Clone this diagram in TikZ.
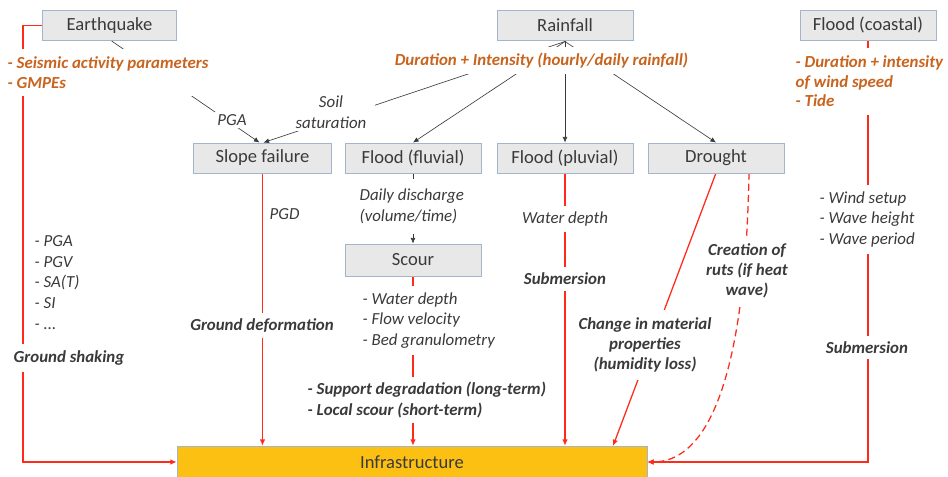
\documentclass[tikz,border=0pt]{standalone}
\usepackage{fontspec}
\setmainfont{Carlito}
\usepackage{tikz}
\usetikzlibrary{arrows.meta, positioning, backgrounds, calc}
\definecolor{box_fill}{HTML}{E8E8E8}
\definecolor{box_line}{HTML}{A3B5CC}
\definecolor{infra_fill}{HTML}{FCC013}
\definecolor{haz_orange}{HTML}{C8641E}
\definecolor{lbl_gray}{HTML}{3A3A3A}
\definecolor{imp_red}{HTML}{FF2A1A}
\tikzset{
    hazard/.style={rectangle, draw=box_line, fill=box_fill, line width=0.6pt, minimum height=0.75cm, font=\fontsize{13.2}{15}\selectfont, text=lbl_gray},
    infra/.style={rectangle, draw=box_line, fill=infra_fill, line width=0.4pt, font=\fontsize{13.2}{15}\selectfont, text=lbl_gray},
    lbl/.style={fill=white, inner sep=1pt, align=left, font=\fontsize{12}{14.6}\selectfont\itshape, text=lbl_gray},
    impact/.style={lbl, font=\fontsize{12}{14.4}\selectfont\bfseries\itshape, align=center},
    param/.style={lbl, font=\fontsize{12}{14.4}\selectfont\bfseries\itshape, text=haz_orange},
    arrow/.style={->, >={Latex[length=4pt, width=3.5pt]}, line width=0.45pt, lbl_gray},
    redarrow/.style={->, >={Latex[length=4.5pt, width=4pt]}, line width=0.9pt, imp_red}
}

\begin{document}
\begin{tikzpicture}[x=0.025cm, y=-0.025cm]
    \useasboundingbox (0,0) rectangle (948,477);

    % hazards
    \node (Earthquake) [hazard, minimum width=3.37cm] at (109.5,25.5) {Earthquake};
    \node (Rainfall) [hazard, minimum width=3.4cm] at (565,25.5) {Rainfall};
    \node (Coastal) [hazard, minimum width=3.4cm] at (868,25.5) {Flood (coastal)};

    \node (Slope) [hazard, minimum width=3.47cm] at (262.5,158) {Slope failure};
    \node (Fluvial) [hazard, minimum width=3.4cm] at (413,158) {Flood (fluvial)};
    \node (Pluvial) [hazard, minimum width=3.4cm] at (565,158) {Flood (pluvial)};
    \node (Drought) [hazard, minimum width=3.4cm] at (716,158) {Drought};
    \node (Scour) [hazard, minimum width=3.4cm, minimum height=0.8cm] at (413,260) {Scour};

    \node (Infra) [infra, minimum width=11.75cm, minimum height=0.8cm] at (412,462) {Infrastructure};

    % intensity parameters
    \node (Seismic_par) [param, anchor=west, inner ysep=5pt] at (6,72.5) {- Seismic activity parameters\\- GMPEs};
    \node (Rain_par) [param, inner ysep=4.5pt] at (541.5,60.5) {Duration + Intensity (hourly/daily rainfall)};
    \node (Coastal_par) [param, anchor=west, inner ysep=5.5pt, font=\fontsize{12}{13.9}\selectfont\bfseries\itshape] at (794,81.5) {- Duration + intensity\\of wind speed\\- Tide};

    \node (PGA_lbl) [lbl, inner sep=2pt] at (232,120) {PGA};
    \node (Soil_lbl) [lbl, align=center, inner xsep=6pt, inner ysep=2pt] at (331,112) {Soil\\saturation};
    \node (Shaking_par) [lbl, anchor=west, fill=none, font=\fontsize{12}{14.8}\selectfont\itshape] at (33,282.5) {- PGA\\- PGV\\- SA(T)\\- SI\\- ...};
    \node (PGD_lbl) [lbl, anchor=west] at (268,214) {PGD};
    \node (Discharge_lbl) [lbl, anchor=west, inner ysep=7pt] at (358,206.5) {Daily discharge\\(volume/time)};
    \node (Scour_par) [lbl, anchor=west, inner ysep=5pt] at (361,320.5) {- Water depth\\- Flow velocity\\- Bed granulometry};
    \node (Depth_lbl) [lbl, inner ysep=4pt] at (565,219) {Water depth};
    \node (Wave_par) [lbl, anchor=west, inner ysep=5pt] at (818,219.5) {- Wind setup\\- Wave height\\- Wave period};

    % impacts
    \node (Shaking_imp) [impact, inner ysep=4.5pt] at (69,358) {Ground shaking};
    \node (Deform_imp) [impact, inner ysep=4pt] at (262,325.5) {Ground deformation};
    \node (Support_imp) [impact, anchor=west, align=left, inner ysep=3.5pt] at (306,400) {- Support degradation (long-term)\\- Local scour (short-term)};
    \node (Subm_imp) [impact, inner ysep=4pt] at (565,279) {Submersion};
    \node (Material_imp) [impact, inner ysep=5pt, inner xsep=2pt] at (645,345) {Change in material\\properties\\(humidity loss)};
    \node (Ruts_imp) [impact, inner ysep=5.5pt] at (747,271) {Creation of\\ruts (if heat\\wave)};
    \node (Coastal_imp) [impact, inner ysep=4pt] at (867,347.5) {Submersion};

    \coordinate (Eq_corner) at (23,25.5);
    \coordinate (Rain_out) at (565,41.5);
    \coordinate (Dr_solid_end) at (613,446);
    \coordinate (Dr_dash_start) at (749,172.5);

    \begin{scope}[on background layer]
        % triggering
        \draw[arrow] ($(Earthquake.south)+(2,0)$) -- ($(Slope.north)+(-3,0)$);
        \draw[arrow] (Rain_out) -- ($(Slope.north)+(1,0)$);
        \draw[arrow] (Rain_out) -- (Fluvial.north);
        \draw[arrow] (Rain_out) -- (Pluvial.north);
        \draw[arrow] (Rain_out) -- (Drought.north);
        \draw[arrow] (Fluvial.south) -- (Scour.north);

        % impacts on the infrastructure
        \draw[redarrow] (Earthquake.west) -- (Eq_corner) |- (Infra.west);
        \draw[redarrow] (Slope.south) -- (Slope.south |- Infra.north);
        \draw[redarrow] (Scour.south) -- (Scour.south |- Infra.north);
        \draw[redarrow] (Pluvial.south) -- (Pluvial.south |- Infra.north);
        \draw[redarrow] ($(Drought.south)+(0,-0.5)$) -- (Dr_solid_end);
        \draw[redarrow, dashed, dash pattern=on 5pt off 3pt] (Dr_dash_start) .. controls (745,400) and (700,462) .. (Infra.east);
        \draw[redarrow] (Coastal.south) |- (Infra.east);
    \end{scope}
\end{tikzpicture}
\end{document}
